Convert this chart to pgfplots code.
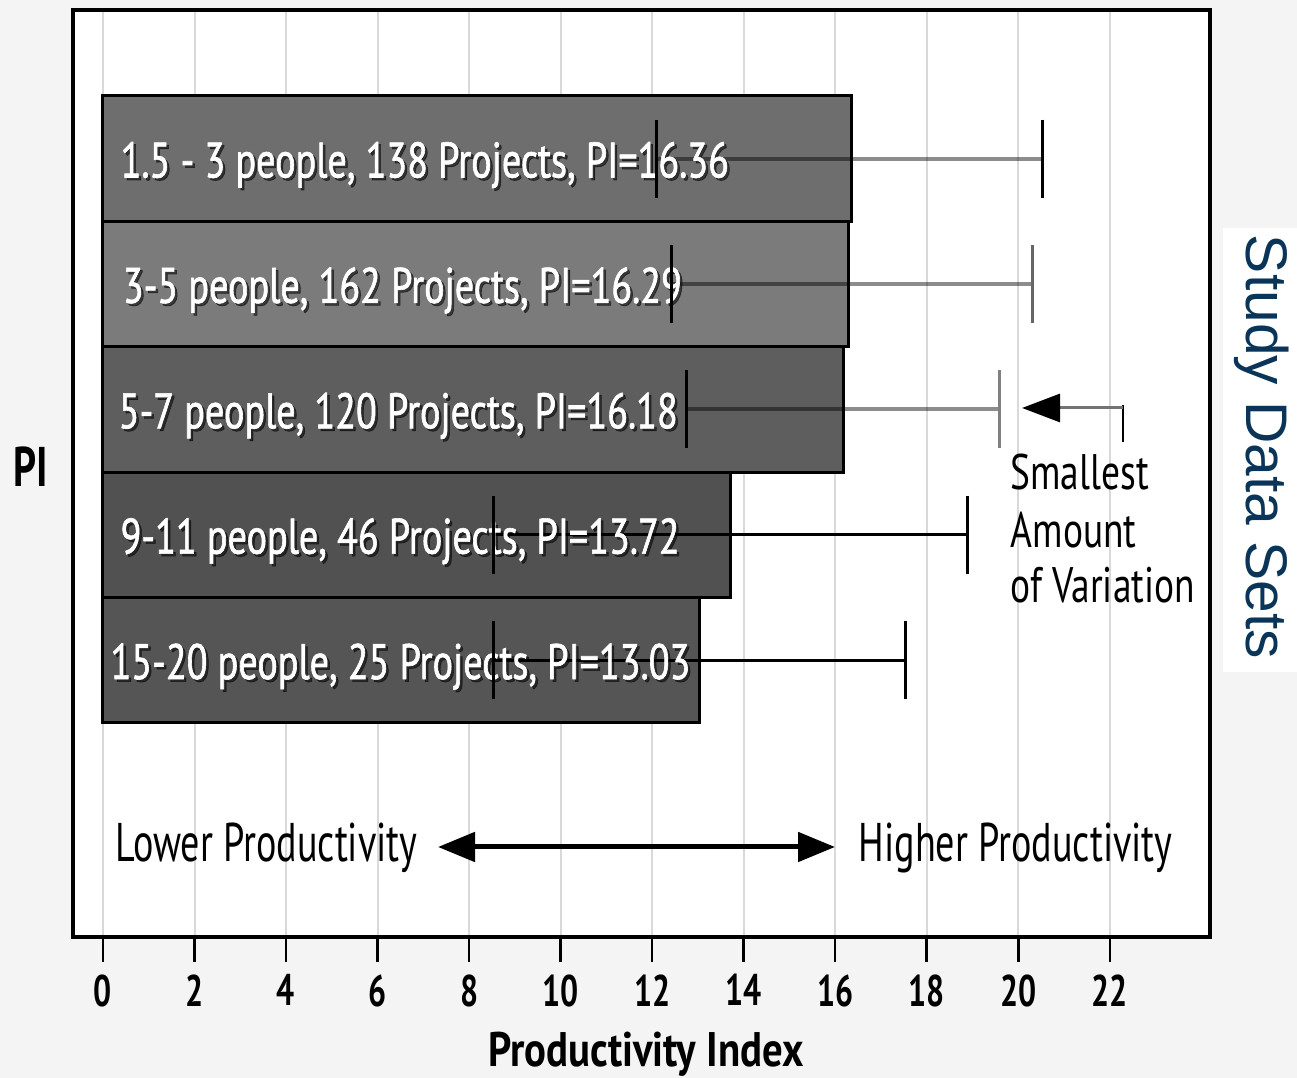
\documentclass[border=0pt]{standalone}
\usepackage{fontspec}
\setmainfont{PT Sans}[FakeStretch=0.765]
\newfontfamily\barfont{PT Sans}[FakeStretch=0.765, FakeBold=1.2]
\newfontfamily\boldcond{PT Sans}[FakeStretch=0.72]
\newfontfamily\labelfont{PT Sans}[FakeStretch=0.84]
\newfontfamily\annfont{PT Sans}[FakeStretch=0.70]
\newfontfamily\smallfont{PT Sans}[FakeStretch=0.75]
\newfontfamily\arialfont{Liberation Sans}
\usepackage{pgfplots}
\pgfplotsset{compat=1.18}
\usetikzlibrary{arrows.meta}
\definecolor{bg}{HTML}{F4F4F4}
\definecolor{gridgray}{HTML}{D9D9D9}
\definecolor{barA}{HTML}{6E6E6E}
\definecolor{barB}{HTML}{7B7B7B}
\definecolor{barC}{HTML}{5E5E5E}
\definecolor{barD}{HTML}{515151}
\definecolor{barE}{HTML}{555555}
\definecolor{navy}{HTML}{0A3558}
\newcommand{\bartext}[3]{%
  \node[anchor=base west, inner sep=0pt, text=black, opacity=0.55, xshift=0.25mm, yshift=-0.25mm, font=\barfont\fontsize{14.2}{17}\selectfont] at (axis cs:#1,#2) {#3};
  \node[anchor=base west, inner sep=0pt, text=white, font=\barfont\fontsize{14.2}{17}\selectfont] at (axis cs:#1,#2) {#3};}
\begin{document}
\begin{tikzpicture}
\path[fill=bg, use as bounding box] (0,0) rectangle (129.7mm,107.8mm);
\fill[white] (122.3mm,40.6mm) rectangle (129.7mm,85.0mm);
\begin{axis}[
  at={(7.3mm,14.1mm)}, anchor=south west,
  scale only axis, width=113.7mm, height=92.7mm,
  xmin=-0.655, xmax=24.19, ymin=-1.207, ymax=6.186,
  axis background/.style={fill=white},
  xtick={0,2,...,22}, ytick=\empty,
  xmajorgrids, grid style={line width=0.2mm, gridgray},
  tick align=outside, xtick pos=bottom,
  major tick length=2.5mm,
  tick style={line width=0.25mm, black},
  axis line style={line width=0.4mm},
  clip=false,
  /pgf/number format/assume math mode=true,
  xticklabel style={font=\boldcond\bfseries\fontsize{12.6}{15}\selectfont},
]
\addplot[xbar, bar width=1, bar shift=0pt, fill=barA, draw=black, line width=0.3mm] coordinates {(16.36,5)};
\addplot[xbar, bar width=1, bar shift=0pt, fill=barB, draw=black, line width=0.3mm] coordinates {(16.29,4)};
\addplot[xbar, bar width=1, bar shift=0pt, fill=barC, draw=black, line width=0.3mm] coordinates {(16.18,3)};
\addplot[xbar, bar width=1, bar shift=0pt, fill=barD, draw=black, line width=0.3mm] coordinates {(13.72,2)};
\addplot[xbar, bar width=1, bar shift=0pt, fill=barE, draw=black, line width=0.3mm] coordinates {(13.03,1)};
% error ranges
\addplot[black, opacity=0.45, line width=0.4mm, mark=none] coordinates {(12.10,5) (20.54,5)};
\addplot[only marks, mark=|, mark size=3.9mm, mark options={line width=0.3mm, black}] coordinates {(12.10,5) (20.54,5)};
\addplot[black, opacity=0.45, line width=0.4mm, mark=none] coordinates {(12.43,4) (20.30,4)};
\addplot[only marks, mark=|, mark size=3.9mm, mark options={line width=0.3mm, black}] coordinates {(12.43,4)};
\addplot[only marks, mark=|, mark size=3.9mm, mark options={line width=0.3mm, black!60}] coordinates {(20.30,4)};
\addplot[black, opacity=0.45, line width=0.4mm, mark=none] coordinates {(12.76,3) (19.58,3)};
\addplot[only marks, mark=|, mark size=3.9mm, mark options={line width=0.3mm, black}] coordinates {(12.76,3)};
\addplot[only marks, mark=|, mark size=3.9mm, mark options={line width=0.3mm, black!50}] coordinates {(19.58,3)};
\addplot[black, line width=0.3mm, mark=none] coordinates {(8.54,2) (18.88,2)};
\addplot[only marks, mark=|, mark size=3.9mm, mark options={line width=0.3mm, black}] coordinates {(8.54,2) (18.88,2)};
\addplot[black, line width=0.3mm, mark=none] coordinates {(8.54,1) (17.54,1)};
\addplot[only marks, mark=|, mark size=3.9mm, mark options={line width=0.3mm, black}] coordinates {(8.54,1) (17.54,1)};
\bartext{0.37}{4.85}{1.5 - 3 people, 138 Projects, PI=16.36}
\bartext{0.42}{3.85}{3-5 people, 162 Projects, PI=16.29}
\bartext{0.33}{2.85}{5-7 people, 120 Projects, PI=16.18}
\bartext{0.37}{1.85}{9-11 people, 46 Projects, PI=13.72}
\bartext{0.15}{0.85}{15-20 people, 25 Projects, PI=13.03}
\end{axis}
\node[anchor=base west, inner sep=0pt, font=\boldcond\bfseries\fontsize{15.9}{18}\selectfont] at (1.3mm,59.1mm) {PI};
\node[anchor=base, inner sep=0pt, font=\labelfont\bfseries\fontsize{13.8}{16}\selectfont] at (64.6mm,1.1mm) {Productivity Index};
\node[rotate=-90, text=navy, font=\arialfont\fontsize{16.7}{20}\selectfont] at (126.2mm,63.1mm) {Study Data Sets};
\node[anchor=base west, inner sep=0pt, font=\annfont\fontsize{15.5}{18}\selectfont] at (11.5mm,21.6mm) {Lower Productivity};
\node[anchor=base west, inner sep=0pt, font=\annfont\fontsize{15.5}{18}\selectfont] at (85.8mm,21.6mm) {Higher Productivity};
\draw[line width=0.5mm, {Triangle[length=3.7mm,width=2.9mm]}-{Triangle[length=3.7mm,width=2.9mm]}] (43.8mm,23.1mm) -- (83.5mm,23.1mm);
\node[anchor=base west, inner sep=0pt, font=\smallfont\fontsize{14.2}{17}\selectfont] at (101.0mm,58.8mm) {Smallest};
\node[anchor=base west, inner sep=0pt, font=\smallfont\fontsize{14.2}{17}\selectfont] at (101.0mm,53.0mm) {Amount};
\node[anchor=base west, inner sep=0pt, font=\smallfont\fontsize{14.2}{17}\selectfont] at (101.0mm,47.5mm) {of Variation};
\draw[line width=0.2mm, black] (112.3mm,63.6mm) -- (112.3mm,67.3mm);
\draw[line width=0.3mm, black!55, -{Triangle[length=3.8mm,width=2.8mm,black]}] (112.3mm,67.0mm) -- (102.2mm,67.0mm);
\end{tikzpicture}
\end{document}
